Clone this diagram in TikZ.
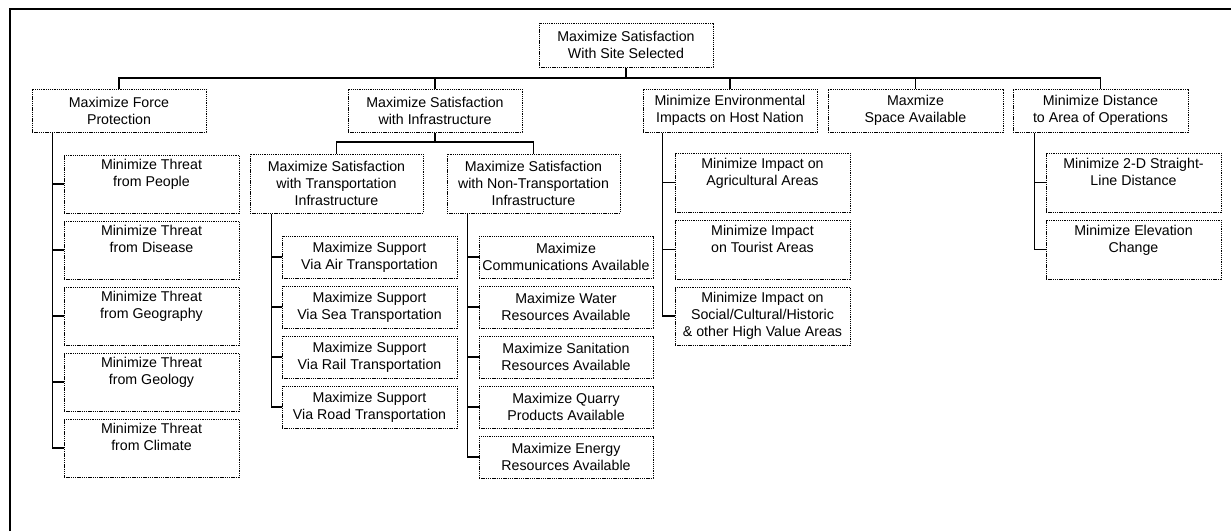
\documentclass[tikz,border=0pt]{standalone}
\usepackage{fontspec}
\setmainfont{Liberation Sans}
\begin{document}
\begin{tikzpicture}[x=1pt,y=-1pt,
  box/.style={draw, line width=1pt, dash pattern=on 1.3pt off 0.9pt, inner sep=0pt,
    align=center, font=\fontsize{14.2}{17}\selectfont},
  sz/.style 2 args={minimum width=#1pt, minimum height=#2pt},
  conn/.style={line width=1.6pt},
  frame/.style={line width=2.2pt}]
\useasboundingbox (0,0) rectangle (1231,531);
\draw[frame] (10,531) -- (10,9) -- (1231,9);

% root and level 1
\node[box, sz={174}{44}] (root) at (626,45) {Maximize Satisfaction\\With Site Selected};
\node[box, sz={174}{43}] (fp) at (119,110.5) {Maximize Force\\Protection};
\node[box, sz={174}{43}] (infra) at (435,110.5) {Maximize Satisfaction\\with Infrastructure};
\node[box, sz={174}{43}] (env) at (730,110.5) {Minimize Environmental\\Impacts on Host Nation};
\node[box, sz={175}{43}] (space) at (915.5,110.5) {Maxmize\\Space Available};
\node[box, sz={175}{43}] (dist) at (1100.5,110.5) {Minimize Distance\\to Area of Operations};

% force protection children
\node[box, sz={175}{58}] (f1) at (151.5,184) {Minimize Threat\\from People\\\strut};
\node[box, sz={175}{58}] (f2) at (151.5,250) {Minimize Threat\\from Disease\\\strut};
\node[box, sz={175}{58}] (f3) at (151.5,316) {Minimize Threat\\from Geography\\\strut};
\node[box, sz={175}{58}] (f4) at (151.5,382) {Minimize Threat\\from Geology\\\strut};
\node[box, sz={175}{58}] (f5) at (151.5,448) {Minimize Threat\\from Climate\\\strut};

% infrastructure children
\node[box, sz={173}{59}] (tr) at (336.5,183.5) {Maximize Satisfaction\\with Transportation\\Infrastructure};
\node[box, sz={173}{59}] (nt) at (533.5,183.5) {Maximize Satisfaction\\with Non-Transportation\\Infrastructure};

\node[box, sz={175}{42}] (t1) at (369.5,257) {Maximize Support\\Via Air Transportation};
\node[box, sz={175}{42}] (t2) at (369.5,307) {Maximize Support\\Via Sea Transportation};
\node[box, sz={175}{42}] (t3) at (369.5,357) {Maximize Support\\Via Rail Transportation};
\node[box, sz={175}{42}] (t4) at (369.5,407) {Maximize Support\\Via Road Transportation};

\node[box, sz={174}{42}] (n1) at (566,257) {Maximize\\Communications Available};
\node[box, sz={174}{42}] (n2) at (566,307) {Maximize Water\\Resources Available};
\node[box, sz={174}{42}] (n3) at (566,357) {Maximize Sanitation\\Resources Available};
\node[box, sz={174}{42}] (n4) at (566,407) {Maximize Quarry\\Products Available};
\node[box, sz={174}{42}] (n5) at (566,457) {Maximize Energy\\Resources Available};

% environment children
\node[box, sz={175}{59}] (e1) at (762.5,182.5) {Minimize Impact on\\Agricultural Areas\\\strut};
\node[box, sz={175}{59}] (e2) at (762.5,249.5) {Minimize Impact\\on Tourist Areas\\\strut};
\node[box, sz={175}{58}] (e3) at (762.5,316) {Minimize Impact on\\Social/Cultural/Historic\\\& other High Value Areas};

% distance children
\node[box, sz={175}{59}] (d1) at (1133.5,182.5) {Minimize 2-D Straight-\\Line Distance\\\strut};
\node[box, sz={175}{59}] (d2) at (1133.5,249.5) {Minimize Elevation\\Change\\\strut};

% top level connectors
\coordinate (bus) at (0,78);
\draw[conn] (root.south) -- (root.south |- bus);
\draw[conn] (fp.north) |- (dist.north |- bus) -- (dist.north);
\draw[conn] (infra.north) -- (infra.north |- bus);
\draw[conn] (env.north) -- (env.north |- bus);
\draw[conn] (space.north) -- (space.north |- bus);

% infrastructure split
\coordinate (tb) at (0,142);
\draw[conn] (infra.south) -- (infra.south |- tb);
\draw[conn] (tr.north) |- (nt.north |- tb) -- (nt.north);

% trunks
\coordinate (fpt) at ([xshift=21pt]fp.south west);
\draw[conn] (fpt) |- (f5.west);
\foreach \n in {f1,f2,f3,f4} \draw[conn] (fpt |- \n.west) -- (\n.west);

\coordinate (trt) at ([xshift=22pt]tr.south west);
\draw[conn] (trt) |- (t4.west);
\foreach \n in {t1,t2,t3} \draw[conn] (trt |- \n.west) -- (\n.west);

\coordinate (ntt) at ([xshift=21pt]nt.south west);
\draw[conn] (ntt) |- (n5.west);
\foreach \n in {n1,n2,n3,n4} \draw[conn] (ntt |- \n.west) -- (\n.west);

\coordinate (ent) at ([xshift=20pt]env.south west);
\draw[conn] (ent) |- (e3.west);
\foreach \n in {e1,e2} \draw[conn] (ent |- \n.west) -- (\n.west);

\coordinate (dst) at ([xshift=22pt]dist.south west);
\draw[conn] (dst) |- (d2.west);
\draw[conn] (dst |- d1.west) -- (d1.west);
\end{tikzpicture}
\end{document}
